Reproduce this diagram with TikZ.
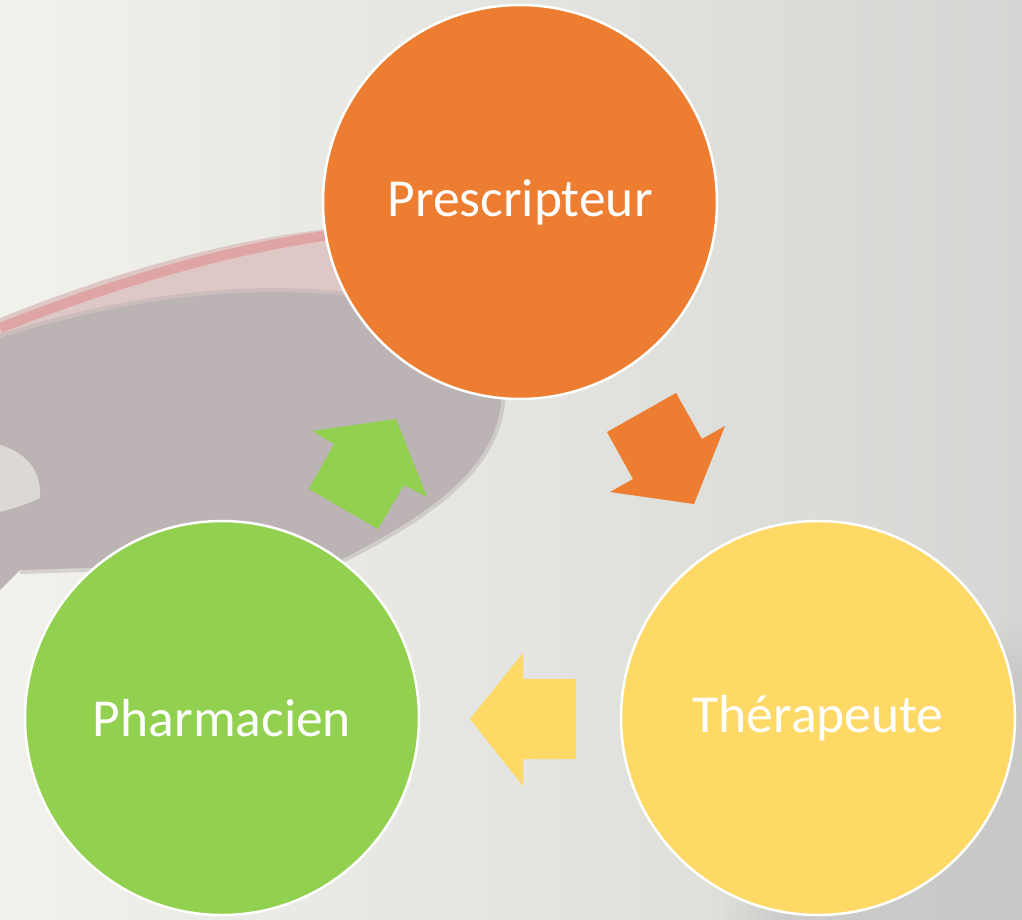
\documentclass[tikz,border=0pt]{standalone}
\usepackage{fontspec}
\setmainfont{Carlito}
\usetikzlibrary{fadings}
\definecolor{bgmid}{RGB}{231,232,227}
\definecolor{bglight}{RGB}{242,242,236}
\definecolor{bgdark}{RGB}{214,214,212}
\definecolor{bgcorner}{RGB}{192,192,192}
\definecolor{blobc}{RGB}{188,179,180}
\definecolor{bandc}{RGB}{224,160,160}
\definecolor{pinkc}{RGB}{222,200,198}
\definecolor{orangec}{RGB}{237,125,49}
\definecolor{yellowc}{RGB}{255,217,102}
\definecolor{greenc}{RGB}{146,208,80}
\tikzset{
  stage/.style={circle, minimum size=394pt, inner sep=0pt, draw=white, line width=2.5pt, text=white, font=\fontsize{53.5}{60}\selectfont}
}
\begin{document}
\begin{tikzpicture}[x=1pt,y=-1pt]
\useasboundingbox (0,0) rectangle (1022,919);
% background
\shade[left color=bglight, middle color=bgmid, right color=bgdark] (0,0) rectangle (1022,919);
\fill[bgcorner, opacity=0.6, path fading=circle with fuzzy edge 20 percent] (1022,919) circle (300);
% blurred photo shapes
\fill[pinkc] (0,318) .. controls (120,270) and (240,235) .. (360,226) -- (360,300) .. controls (220,290) and (110,310) .. (0,345) -- cycle;
\draw[blobc, line width=8pt, opacity=0.5] (0,338) .. controls (120,300) and (250,280) .. (380,300) .. controls (470,320) and (510,360) .. (500,410) .. controls (490,470) and (430,515) .. (340,560) -- (20,570);
\fill[blobc] (0,338) .. controls (120,300) and (250,280) .. (380,300) .. controls (470,320) and (510,360) .. (500,410) .. controls (490,470) and (430,515) .. (340,560) -- (20,570) -- (0,590) -- cycle;
\fill[bglight, opacity=0.6] (0,445) .. controls (25,452) and (42,470) .. (40,498) .. controls (28,504) and (14,508) .. (0,512) -- cycle;
\draw[bandc, line width=10pt, opacity=0.85] (0,328) .. controls (120,280) and (240,246) .. (340,234);
% circles
\node[stage, fill=orangec] (pres) at (520,202) {Prescripteur};
\node[stage, fill=yellowc] (ther) at (818,718) {Thérapeute};
\node[stage, fill=greenc] (phar) at (222,718) {Pharmacien};
% block arrows
\fill[orangec] (607,432) -- (676,393) -- (702,439) -- (725,426) -- (694,504) -- (610,492) -- (633,479) -- cycle;
\fill[yellowc] (470,719) -- (523,653) -- (523,679) -- (576,679) -- (576,759) -- (523,759) -- (523,786) -- cycle;
\fill[greenc] (396,419) -- (427,497) -- (404,485) -- (378,529) -- (309,489) -- (334,444) -- (312,431) -- cycle;
\end{tikzpicture}
\end{document}
